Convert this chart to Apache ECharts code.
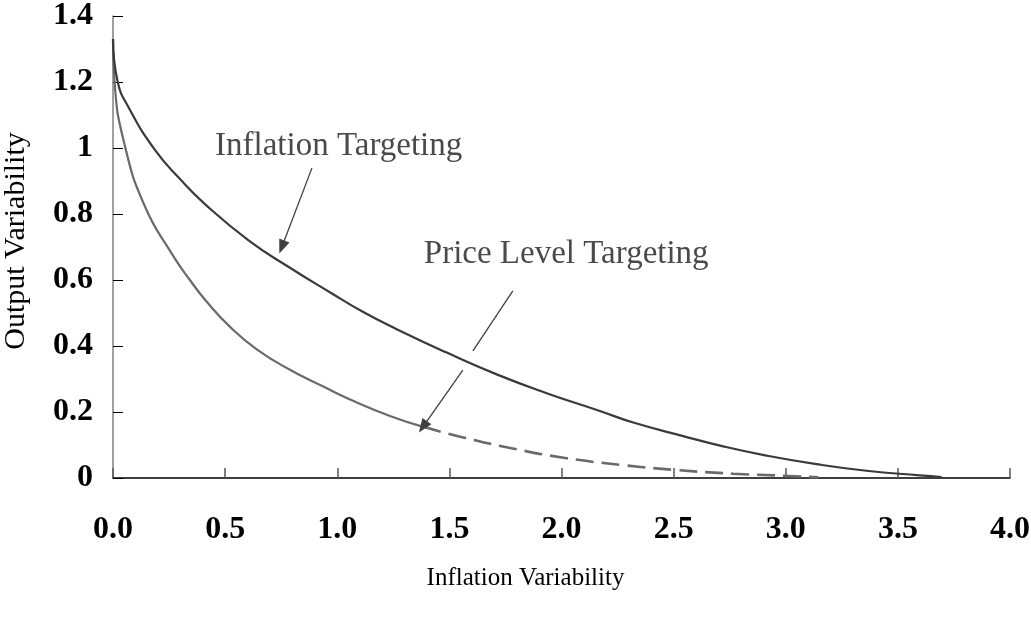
<!DOCTYPE html>
<html>

<head>
    <meta charset="utf-8" />
    <title>Inflation vs Output Variability</title>
    <script src="https://cdn.jsdelivr.net/npm/echarts@6/dist/echarts.min.js"></script>
    <style>
        html, body {
            margin: 0;
            padding: 0;
            background: #fff;
        }
    </style>
</head>

<body>
    <div id="main" style="width: 1031px;height:617px;"></div>
</body>

<script>
    // 曲线数据：[通胀波动, 产出波动]
    var inflationTargeting = [
        [0, 1.33], [0.021, 1.2], [0.068, 1.125], [0.187, 0.994], [0.3, 0.905], [0.41, 0.83],
        [0.603, 0.721], [0.782, 0.64], [0.967, 0.563], [1.116, 0.503], [1.265, 0.451],
        [1.488, 0.38], [1.711, 0.314], [1.934, 0.257], [2.171, 0.203], [2.32, 0.168],
        [2.543, 0.127], [2.721, 0.096], [2.914, 0.068], [3.137, 0.042], [3.36, 0.022],
        [3.598, 0.008], [3.695, 0.003]
    ];

    var priceLevelSolid = [
        [0, 1.33], [0.007, 1.2], [0.054, 1.004], [0.143, 0.822], [0.262, 0.68],
        [0.343, 0.6], [0.418, 0.534], [0.522, 0.458], [0.641, 0.39], [0.789, 0.328],
        [0.938, 0.277], [1.057, 0.238], [1.235, 0.188], [1.384, 0.155]
    ];

    var priceLevelDashed = [
        [1.384, 0.155], [1.562, 0.123], [1.8, 0.087], [2.023, 0.06], [2.275, 0.039],
        [2.498, 0.025], [2.765, 0.013], [2.989, 0.007], [3.145, 0.002]
    ];

    // 注释文字与箭头（数据坐标）
    var annotationTexts = [
        { name: 'Inflation Targeting', value: [0.455, 1.006] },
        { name: 'Price Level Targeting', value: [1.386, 0.679] }
    ];
    var arrowLines = [
        { from: [0.887, 0.939], to: [0.753, 0.700], head: true },
        { from: [1.783, 0.567], to: [1.605, 0.385], head: false },
        { from: [1.560, 0.327], to: [1.382, 0.155], head: true }
    ];

    var xTicks = { min: 0, max: 4, interval: 0.5 };
    var yTicks = { min: 0, max: 1.4, interval: 0.2 };

    var serif = '"Liberation Serif", "Times New Roman", serif';

    var myChart = echarts.init(document.getElementById('main'));

    var option = {
        animation: false,
        grid: {
            left: 113,
            right: 21,
            top: 16,
            bottom: 139,
            containLabel: false,
            outerBoundsMode: 'none'
        },
        xAxis: {
            type: 'value',
            min: xTicks.min,
            max: xTicks.max,
            interval: xTicks.interval,
            name: 'Inflation Variability',
            nameLocation: 'middle',
            nameGap: 88,
            nameTextStyle: {
                fontFamily: serif,
                fontSize: 25,
                color: '#000',
                padding: [0, 72, 0, 0]
            },
            axisLine: { lineStyle: { color: '#000', width: 1.5 } },
            axisTick: { inside: true, length: 10, lineStyle: { color: '#555', width: 1.5 } },
            axisLabel: {
                margin: 36,
                fontFamily: serif,
                fontWeight: 'bold',
                fontSize: 32,
                color: '#000',
                formatter: function (v) { return v.toFixed(1); }
            },
            splitLine: { show: false }
        },
        yAxis: {
            type: 'value',
            min: yTicks.min,
            max: yTicks.max,
            interval: yTicks.interval,
            name: 'Output Variability',
            nameLocation: 'middle',
            nameGap: 82,
            nameTextStyle: {
                fontFamily: serif,
                fontSize: 30,
                color: '#000',
                padding: [0, 0, 0, 12]
            },
            axisLine: { show: true, lineStyle: { color: '#808080', width: 1.5 } },
            axisTick: { show: true, inside: true, length: 10, lineStyle: { color: '#000', width: 1 } },
            axisLabel: {
                margin: 20,
                fontFamily: serif,
                fontWeight: 'bold',
                fontSize: 32,
                color: '#000'
            },
            splitLine: { show: false }
        },
        series: [
            {
                name: 'Inflation Targeting',
                type: 'line',
                data: inflationTargeting,
                smooth: 0.5,
                showSymbol: false,
                lineStyle: { color: '#3a3a3a', width: 2.2 },
                z: 3
            },
            {
                name: 'Price Level Targeting',
                type: 'line',
                data: priceLevelSolid,
                smooth: 0.5,
                showSymbol: false,
                lineStyle: { color: '#6a6a6a', width: 2.2 },
                z: 2
            },
            {
                name: 'Price Level Targeting (dashed)',
                type: 'line',
                data: priceLevelDashed,
                smooth: 0.5,
                showSymbol: false,
                lineStyle: { color: '#6a6a6a', width: 2.6, type: [18, 8] },
                z: 2
            },
            // 注释文字
            {
                type: 'scatter',
                data: annotationTexts,
                symbolSize: 0,
                silent: true,
                itemStyle: { opacity: 1 },
                label: {
                    show: true,
                    position: 'right',
                    distance: 0,
                    formatter: '{b}',
                    fontFamily: serif,
                    fontSize: 33,
                    color: '#4a4a4a'
                },
                // 箭头
                markLine: {
                    silent: true,
                    animation: false,
                    label: { show: false },
                    lineStyle: { color: '#404040', width: 1.3, type: 'solid' },
                    data: arrowLines.map(function (a) {
                        return [
                            { coord: a.from, symbol: 'none' },
                            { coord: a.to, symbol: a.head ? 'triangle' : 'none', symbolSize: [11, 14] }
                        ];
                    })
                }
            }
        ]
    };

    myChart.setOption(option);
</script>

</html>
